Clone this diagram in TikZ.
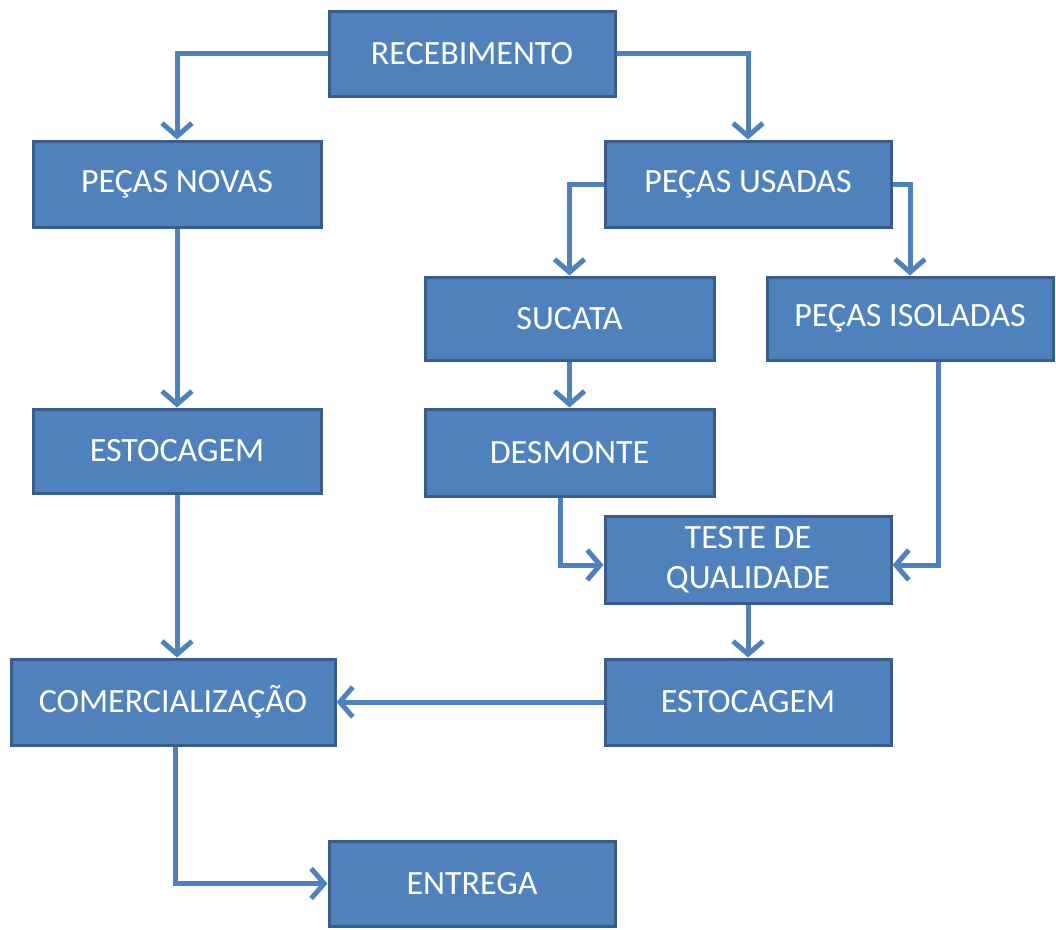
\documentclass[tikz,border=0pt]{standalone}
\usepackage{fontspec}
\setmainfont{Carlito}
\usetikzlibrary{arrows.meta}
\definecolor{boxfill}{HTML}{4F81BD}
\definecolor{boxline}{HTML}{385D8A}
\begin{document}
\begin{tikzpicture}[x=1pt,y=-1pt,
  box/.style={draw=boxline,line width=3pt,fill=boxfill,text=white,font=\fontsize{34}{40}\selectfont,align=center,inner sep=0pt},
  conn/.style={draw=boxfill,line width=5pt,-{Straight Barb[length=13pt,width=30pt,line width=5pt]}}]
\useasboundingbox (0,0) rectangle (1056,929);
\newcommand{\bx}[6]{\node[box,minimum width=#4-#2,minimum height=#5-#3] (#1) at ({(#2+#4)/2},{(#3+#5)/2}) {#6};}
\bx{rec}{329}{11}{615}{96}{RECEBIMENTO}
\bx{nov}{33}{141}{321}{227}{PEÇAS NOVAS}
\bx{usa}{605}{141}{891}{227}{PEÇAS USADAS}
\bx{suc}{425}{277}{714}{360}{SUCATA}
\bx{iso}{767}{277}{1053}{360}{PEÇAS ISOLADAS}
\bx{est1}{33}{409}{321}{493}{ESTOCAGEM}
\bx{des}{425}{409}{714}{496}{DESMONTE}
\bx{tes}{605}{516}{891}{603}{TESTE DE\\QUALIDADE}
\bx{com}{11}{659}{335}{745}{COMERCIALIZAÇÃO}
\bx{est2}{605}{659}{891}{745}{ESTOCAGEM}
\bx{ent}{329}{841}{615}{926}{ENTREGA}
\draw[conn] (rec.west) -| (nov.north);
\draw[conn] (rec.east) -| (usa.north);
\draw[conn] (usa.west) -| (suc.north);
\draw[conn] (usa.east) -| (iso.north);
\draw[conn] (nov.south) -- (est1.north);
\draw[conn] (suc.south) -- (des.north);
\draw[conn] (des.south -| 560,0) |- (tes.west |- 0,565);
\draw[conn] (iso.south -| 938,0) |- (tes.east |- 0,565);
\draw[conn] (est1.south) -- (com.north -| est1.south);
\draw[conn] (tes.south) -- (est2.north);
\draw[conn] (est2.west) -- (com.east);
\draw[conn] (com.south -| 175,0) |- (ent.west);
\end{tikzpicture}
\end{document}
